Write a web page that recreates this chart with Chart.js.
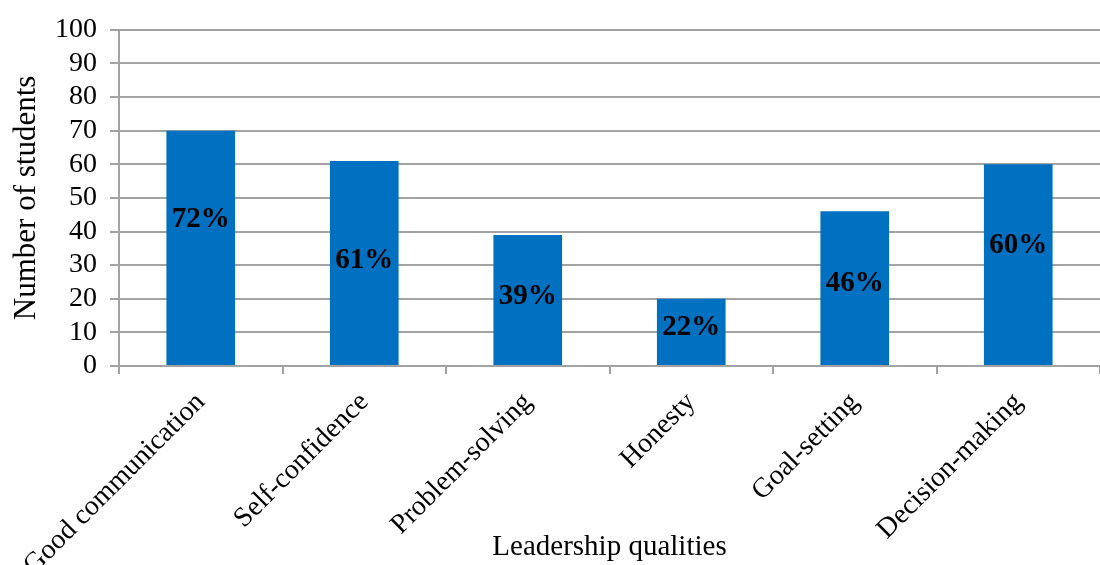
<!DOCTYPE html>
<html>
<head>
<meta charset="utf-8">
<script src="https://cdn.jsdelivr.net/npm/chart.js@4"></script>
<style>
  html, body { margin: 0; padding: 0; background: #fff; }
  #wrap { width: 1100px; height: 565px; position: relative; }
</style>
</head>
<body>
<div id="wrap"><canvas id="chart"></canvas></div>
<script>
// Leadership qualities reported by students
const qualities = ['Good communication', 'Self-confidence', 'Problem-solving', 'Honesty', 'Goal-setting', 'Decision-making'];
const students = [70, 61, 39, 20, 46, 60];
const percentLabels = ['72%', '61%', '39%', '22%', '46%', '60%'];
const yTicks = [0, 10, 20, 30, 40, 50, 60, 70, 80, 90, 100];

const FONT = '"Liberation Serif", "Times New Roman", serif';
const GRID = '#a3a3a3';
const BAR = '#0070c0';

// percentage text drawn inside each bar
const barLabels = {
  id: 'barLabels',
  afterDatasetsDraw(chart, args, opts) {
    const { ctx } = chart;
    const meta = chart.getDatasetMeta(0);
    const y = chart.scales.y;
    ctx.save();
    ctx.font = 'bold 29px ' + FONT;
    ctx.fillStyle = '#000';
    ctx.textAlign = 'center';
    ctx.textBaseline = 'middle';
    meta.data.forEach((bar, i) => {
      ctx.fillText(percentLabels[i], bar.x, y.getPixelForValue(opts.anchor[i]));
    });
    ctx.restore();
  },
};

new Chart(document.getElementById('chart'), {
  type: 'bar',
  data: {
    labels: qualities,
    datasets: [{
      data: students,
      backgroundColor: BAR,
      borderWidth: 0,
      barPercentage: 1,
      categoryPercentage: 0.42,
    }],
  },
  plugins: [barLabels],
  options: {
    responsive: true,
    maintainAspectRatio: false,
    animation: false,
    layout: { padding: { top: 28, right: 0, bottom: 0, left: 0 } },
    plugins: {
      legend: { display: false },
      tooltip: { enabled: false },
      barLabels: { anchor: [43.5, 31.4, 20.7, 11.5, 24.6, 35.8] },
    },
    scales: {
      x: {
        offset: true,
        grid: { display: true, drawOnChartArea: false, drawTicks: true, tickLength: 8, color: GRID, lineWidth: 2, offset: true },
        border: { display: true, color: GRID, width: 2 },
        ticks: {
          color: '#000',
          font: { family: FONT, size: 28 },
          minRotation: 45,
          maxRotation: 45,
          autoSkip: false,
          padding: 12,
        },
        title: {
          display: true,
          text: 'Leadership qualities',
          color: '#000',
          font: { family: FONT, size: 29 },
          padding: { top: 0, bottom: 0 },
        },
        afterFit: (scale) => { scale.height = 199; },
      },
      y: {
        min: 0,
        max: 100,
        afterBuildTicks: (scale) => { scale.ticks = yTicks.map(v => ({ value: v })); },
        grid: { color: GRID, lineWidth: 2, drawTicks: true, tickLength: 9 },
        border: { display: true, color: GRID, width: 2 },
        ticks: {
          color: '#000',
          font: { family: FONT, size: 28 },
          autoSkip: false,
          padding: 13,
        },
        title: {
          display: true,
          text: 'Number of students',
          color: '#000',
          font: { family: FONT, size: 31 },
          padding: { top: 8, bottom: 0 },
        },
        afterFit: (scale) => { scale.width = 119; },
      },
    },
  },
});
</script>
</body>
</html>
